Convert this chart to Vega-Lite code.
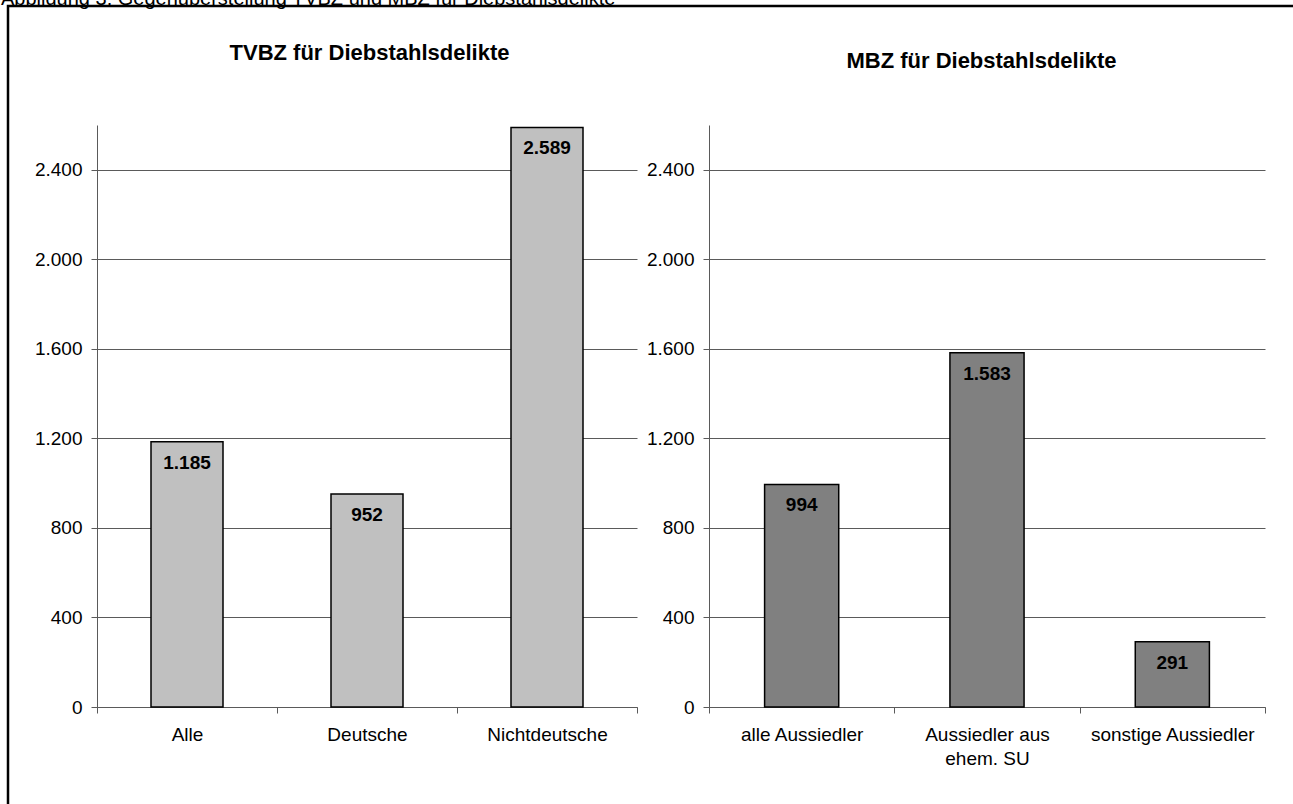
{
  "$schema": "https://vega.github.io/schema/vega-lite/v6.json",
  "width": 1290,
  "height": 800,
  "autosize": {"type": "none"},
  "padding": {"left": 8, "top": 6, "right": 0, "bottom": 0},
  "background": "white",
  "title": {
    "text": "Abbildung 3: Gegenüberstellung TVBZ und MBZ für Diebstahlsdelikte",
    "anchor": "start",
    "orient": "top",
    "frame": "group",
    "offset": 2,
    "dx": -7,
    "dy": 5,
    "fontSize": 20,
    "fontWeight": "normal",
    "color": "black"
  },
  "config": {
    "font": "Liberation Sans",
    "locale": {
      "number": {"decimal": ",", "thousands": ".", "grouping": [3], "currency": ["", " €"]}
    },
    "view": {"stroke": "black", "strokeWidth": 2.5},
    "axis": {
      "domainColor": "#5a5a5a",
      "domainWidth": 1,
      "tickColor": "#5a5a5a",
      "tickWidth": 1,
      "tickSize": 6,
      "gridColor": "#5a5a5a",
      "gridWidth": 1,
      "gridOpacity": 1,
      "labelColor": "black",
      "labelFont": "Liberation Sans",
      "labelFontSize": 19,
      "titleFont": "Liberation Sans",
      "titleColor": "black"
    }
  },
  "layer": [
    {
      "data": {
        "values": [
          {"gruppe": "Alle", "wert": 1185},
          {"gruppe": "Deutsche", "wert": 952},
          {"gruppe": "Nichtdeutsche", "wert": 2589}
        ]
      },
      "encoding": {
        "x": {
          "field": "gruppe",
          "type": "nominal",
          "sort": null,
          "scale": {"range": [89, 629], "paddingInner": 0, "paddingOuter": 0},
          "axis": {
            "orient": "bottom",
            "offset": -99,
            "title": null,
            "labelAngle": 0,
            "tickBand": "extent",
            "labelPadding": 12,
            "grid": false
          }
        },
        "y": {
          "field": "wert",
          "type": "quantitative",
          "scale": {"domain": [0, 2600], "range": [701, 119], "nice": false},
          "axis": {
            "orient": "left",
            "offset": -89,
            "values": [0, 400, 800, 1200, 1600, 2000, 2400],
            "format": ",.0f",
            "grid": true,
            "labelPadding": 9,
            "title": "TVBZ für Diebstahlsdelikte",
            "titleAngle": 0,
            "titleAlign": "center",
            "titleBaseline": "middle",
            "titleX": 272,
            "titleY": 46,
            "titleFontSize": 22,
            "titleFontWeight": "bold"
          }
        }
      },
      "layer": [
        {
          "mark": {"type": "bar", "fill": "#c0c0c0", "stroke": "black", "strokeWidth": 1.5, "width": {"band": 0.4}}
        },
        {
          "mark": {"type": "text", "baseline": "alphabetic", "dy": 27, "fontSize": 19, "fontWeight": "bold", "color": "black"},
          "encoding": {"text": {"field": "wert", "type": "quantitative", "format": ",.0f"}}
        }
      ]
    },
    {
      "data": {
        "values": [
          {"gruppe": "alle Aussiedler", "wert": 994},
          {"gruppe": "Aussiedler aus ehem. SU", "wert": 1583},
          {"gruppe": "sonstige Aussiedler", "wert": 291}
        ]
      },
      "encoding": {
        "x": {
          "field": "gruppe",
          "type": "nominal",
          "sort": null,
          "scale": {"range": [701, 1257], "paddingInner": 0, "paddingOuter": 0},
          "axis": {
            "orient": "bottom",
            "offset": -99,
            "title": null,
            "labelAngle": 0,
            "tickBand": "extent",
            "labelPadding": 12,
            "labelLineHeight": 24,
            "labelExpr": "datum.value == 'Aussiedler aus ehem. SU' ? ['Aussiedler aus', 'ehem. SU'] : datum.value",
            "grid": false
          }
        },
        "y": {
          "field": "wert",
          "type": "quantitative",
          "scale": {"domain": [0, 2600], "range": [701, 119], "nice": false},
          "axis": {
            "orient": "left",
            "offset": -701,
            "values": [0, 400, 800, 1200, 1600, 2000, 2400],
            "format": ",.0f",
            "grid": true,
            "labelPadding": 9,
            "title": "MBZ für Diebstahlsdelikte",
            "titleAngle": 0,
            "titleAlign": "center",
            "titleBaseline": "middle",
            "titleX": 272,
            "titleY": 54,
            "titleFontSize": 22,
            "titleFontWeight": "bold"
          }
        }
      },
      "layer": [
        {
          "mark": {"type": "bar", "fill": "#808080", "stroke": "black", "strokeWidth": 1.5, "width": {"band": 0.4}}
        },
        {
          "mark": {"type": "text", "baseline": "alphabetic", "dy": 27, "fontSize": 19, "fontWeight": "bold", "color": "black"},
          "encoding": {"text": {"field": "wert", "type": "quantitative", "format": ",.0f"}}
        }
      ]
    }
  ],
  "resolve": {
    "scale": {"x": "independent", "y": "independent"},
    "axis": {"x": "independent", "y": "independent"}
  }
}
